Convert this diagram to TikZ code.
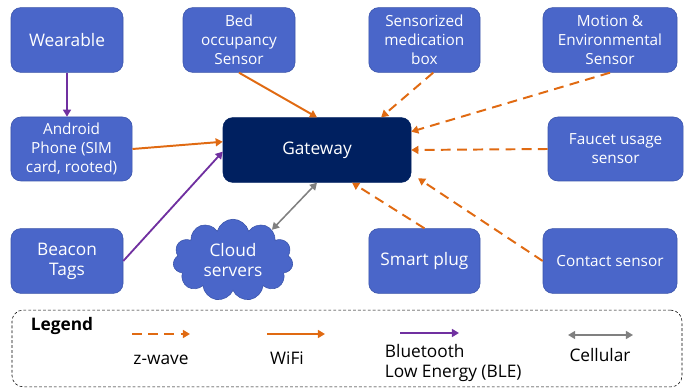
\documentclass[tikz,border=0pt]{standalone}
\usepackage{fontspec}
\setmainfont{Open Sans}
\usetikzlibrary{arrows.meta,shapes.symbols,calc}

\definecolor{boxblue}{RGB}{74,102,201}
\definecolor{boxedge}{RGB}{58,84,170}
\definecolor{gwblue}{RGB}{0,32,96}
\definecolor{zorange}{RGB}{224,106,18}
\definecolor{blepurple}{RGB}{112,48,160}
\definecolor{cellgray}{RGB}{128,128,128}

\newcommand{\bigtxt}{\fontsize{12.3}{14.2}\selectfont}
\newcommand{\smalltxt}{\fontsize{10.9}{13.4}\selectfont}

\begin{document}
\begin{tikzpicture}[
        device/.style={
            rectangle, draw=boxedge, thin, fill=boxblue,
            text=white, rounded corners=7pt,
            minimum width=2.8cm, minimum height=1.62cm,
            align=center, inner sep=1pt
        },
        hub/.style={
            rectangle, draw=gwblue, fill=gwblue, text=white,
            rounded corners=7pt, minimum width=4.7cm,
            minimum height=1.62cm, align=center, font=\bigtxt
        },
        cloudnode/.style={
            cloud, cloud puffs=11, aspect=1.5, draw=boxedge,
            fill=boxblue, text=white, align=center,
            minimum width=3.0cm, minimum height=2.05cm,
            inner sep=0pt, font=\bigtxt
        },
        legendbox/.style={
            rectangle, draw=black, thin, dash pattern=on 2pt off 1.5pt,
            rounded corners=8pt
        },
        tip/.style={-{Triangle[length=5pt,width=5.6pt]}},
        wifi/.style={tip, draw=zorange, line width=1.4pt},
        zwave/.style={tip, draw=zorange, line width=1.4pt,
            dash pattern=on 7pt off 4.5pt},
        ble/.style={tip, draw=blepurple, line width=1.3pt},
        cell/.style={{Triangle[length=5pt,width=5.6pt]}-{Triangle[length=5pt,width=5.6pt]},
            draw=cellgray, line width=1.1pt}
    ]
    \useasboundingbox (0,0) rectangle (17.125,9.725);

    % top row
    \node[device, font=\bigtxt] (wear) at (1.675, 8.725) {Wearable};
    \node[device, font=\smalltxt] (bed) at (5.975, 8.725) {Bed\\occupancy\\Sensor};
    \node[device, font=\smalltxt, minimum width=2.78cm]
        (med) at (10.61, 8.725) {Sensorized\\medication\\box};
    \node[device, font=\smalltxt, minimum width=3.35cm]
        (motion) at (15.25, 8.725) {Motion \&\\Environmental\\Sensor};

    % middle row
    \node[device, font=\smalltxt, minimum width=3.03cm, minimum height=1.6cm]
        (andr) at (1.79, 6.0) {Android\\Phone (SIM\\card, rooted)};
    \node[hub] (gw) at (7.925, 5.975) {Gateway};
    \node[device, font=\smalltxt, minimum width=3.38cm, minimum height=1.6cm]
        (faucet) at (15.39, 6.0) {Faucet usage\\sensor};

    % bottom row
    \node[device, font=\bigtxt] (beacon) at (1.675, 3.2) {Beacon\\Tags};
    \node[cloudnode] (cld) at (5.825, 3.22) {Cloud\\servers};
    \node[device, font=\bigtxt, minimum width=2.78cm] (plug) at (10.61, 3.2) {Smart plug};
    \node[device, font=\smalltxt, minimum width=3.35cm] (contact) at (15.25, 3.2) {Contact sensor};

    % links to the gateway
    \draw[ble] (wear.south) -- (wear.south |- andr.north);
    \draw[wifi] (bed.south) -- (gw.north);
    \draw[wifi] (andr.east) -- (gw.175);
    \draw[ble] (beacon.east) -- (gw.181);
    \draw[zwave] ($(med.south)+(0.22,0)$) -- (gw.27);
    \draw[zwave] (motion.south) -- (gw.11);
    \draw[zwave] (faucet.west) -- (gw.east);
    \draw[zwave] (plug.north) -- (gw.-43);
    \draw[zwave] (contact.west) -- ($(gw.south east)+(0.17,0.11)$);
    \draw[cell] (gw.south) -- (cld.38);

    % legend
    \node[legendbox, minimum width=16.75cm, minimum height=1.92cm]
        (leg) at (8.675, 1.0125) {};
    \node[font=\bigtxt\bfseries] (legtitle) at (1.55, 1.575) {Legend};

    \coordinate (zwa) at (3.3, 1.375);
    \coordinate (zwb) at (4.75, 1.375);
    \coordinate (wfa) at (6.675, 1.375);
    \coordinate (wfb) at (8.125, 1.375);
    \coordinate (bla) at (10.0, 1.4);
    \coordinate (blb) at (11.475, 1.4);
    \coordinate (cea) at (14.2, 1.35);
    \coordinate (ceb) at (15.825, 1.35);

    \draw[zwave] (zwa) -- (zwb);
    \draw[wifi] (wfa) -- (wfb);
    \draw[ble] (bla) -- (blb);
    \draw[cell] (cea) -- (ceb);

    \node[font=\bigtxt] (zwlab) at (4.025, 0.72) {z-wave};
    \node[font=\bigtxt] (wflab) at (7.175, 0.76) {WiFi};
    \node[font=\bigtxt, align=left, anchor=west]
        (bllab) at (9.5, 0.66) {Bluetooth\\Low Energy (BLE)};
    \node[font=\bigtxt] (celab) at (15.0, 0.86) {Cellular};

    \end{tikzpicture}
\end{document}
